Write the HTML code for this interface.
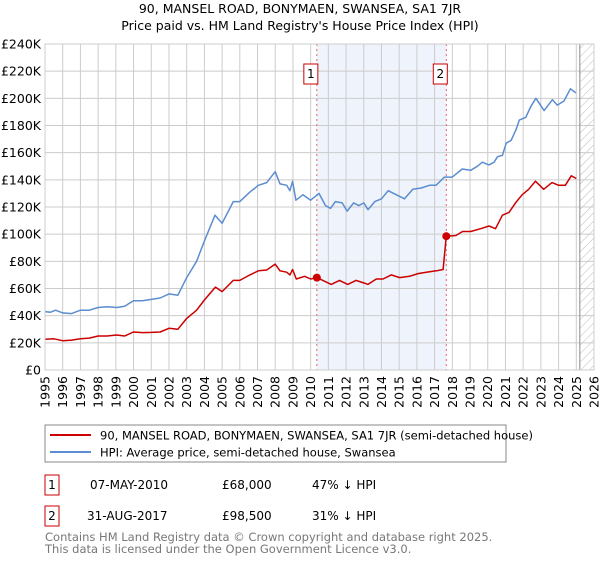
<!DOCTYPE html>
<html><head><meta charset="utf-8"><style>
body{margin:0;background:#fff;width:600px;height:560px;overflow:hidden;font-family:"Liberation Sans","DejaVu Sans",sans-serif}
svg text{font-family:"DejaVu Sans","Liberation Sans",sans-serif}
</style></head><body>
<svg id="c" width="600" height="560">
<defs><pattern id="hatch" width="6" height="6" patternUnits="userSpaceOnUse" patternTransform="rotate(45)"><line x1="0" y1="0" x2="0" y2="6" stroke="#bbb" stroke-width="1"/></pattern></defs>
<text x="300" y="13" text-anchor="middle" font-size="12.5">90, MANSEL ROAD, BONYMAEN, SWANSEA, SA1 7JR</text>
<text x="300" y="30" text-anchor="middle" font-size="12.5">Price paid vs. HM Land Registry's House Price Index (HPI)</text>
<g id="grid"></g><g id="marks"></g><g id="axes"></g>
<rect x="45" y="425" width="461" height="37" fill="#fff" stroke="#888"/>
<line x1="50" y1="435" x2="91" y2="435" stroke="#cc0000" stroke-width="2"/>
<text x="100" y="439.5" font-size="11.5">90, MANSEL ROAD, BONYMAEN, SWANSEA, SA1 7JR (semi-detached house)</text>
<line x1="50" y1="452" x2="91" y2="452" stroke="#5b8dd0" stroke-width="2"/>
<text x="100" y="456.5" font-size="11.5">HPI: Average price, semi-detached house, Swansea</text>
<g font-size="12">
<rect x="45" y="475" width="14" height="20" fill="#fff" stroke="#cc0000"/>
<text x="52" y="489" text-anchor="middle">1</text>
<text x="90" y="489">07-MAY-2010</text>
<text x="222" y="489">£68,000</text>
<text x="312" y="489">47% ↓ HPI</text>
<rect x="45" y="506" width="14" height="20" fill="#fff" stroke="#cc0000"/>
<text x="52" y="520" text-anchor="middle">2</text>
<text x="87" y="520">31-AUG-2017</text>
<text x="222" y="520">£98,500</text>
<text x="312" y="520">31% ↓ HPI</text>
</g>
<text x="45" y="541" font-size="11.5" fill="#777">Contains HM Land Registry data © Crown copyright and database right 2025.</text>
<text x="45" y="553" font-size="11.5" fill="#777">This data is licensed under the Open Government Licence v3.0.</text>
</svg>
<script>
const hpiYears=[1995,1995.3,1995.6,1996,1996.5,1997,1997.5,1998,1998.5,1999.05,1999.5,2000,2000.5,2001,2001.5,2002,2002.5,2003,2003.56,2004,2004.6,2005,2005.63,2006,2006.57,2007.05,2007.52,2008,2008.27,2008.65,2008.83,2008.98,2009.17,2009.56,2010,2010.47,2010.84,2011.12,2011.4,2011.78,2012.06,2012.43,2012.72,2013,2013.24,2013.62,2014,2014.38,2014.84,2015.3,2015.77,2016.24,2016.71,2017.08,2017.55,2018,2018.56,2019.04,2019.41,2019.69,2020.07,2020.36,2020.55,2020.83,2021.04,2021.32,2021.6,2021.78,2022.15,2022.43,2022.72,2023.18,2023.65,2023.93,2024.3,2024.67,2024.98];
const hpiValues=[43,42.5,44,42,41.5,44,44,46,46.5,46,47,51,51,52,53,56,55,68,80,95,114,108,124,124,131,136,138,146,137,136,132,139,125,129,125,130,121,119,124,123,117,123,121,123,118,124,126,132,129,126,133,134,136,136,142,142,148,147,150,153,151,153,157,158,167,169,177,184,186,194,200,191,199,195,198,207,204];
const ppYears=[1995,1995.5,1996,1996.5,1997,1997.5,1998,1998.5,1999.05,1999.5,2000,2000.5,2001,2001.5,2002,2002.5,2003,2003.56,2004,2004.62,2005,2005.63,2006,2006.57,2007.05,2007.52,2008,2008.27,2008.65,2008.83,2008.98,2009.19,2009.66,2010,2010.35,2010.69,2011.16,2011.63,2012.09,2012.56,2013.03,2013.24,2013.71,2014.09,2014.55,2015.03,2015.59,2016.06,2016.53,2017.1,2017.48,2017.66,2018.2,2018.58,2019.04,2019.6,2020.07,2020.44,2020.83,2021.2,2021.57,2021.94,2022.31,2022.69,2023.16,2023.63,2024,2024.38,2024.72,2025];
const ppValues=[22.6,23,21.6,22,23,23.5,25,25,25.8,25,28,27.5,27.7,28,30.7,30,38,44,51.5,61,57.7,66,66,70,73,73.6,78,73,72,70,74,67,69,67,68,66,63,66,63,66,64,63,67,67,70,68,69,71,72,73,74,98.5,99,102,102,104,106,104,114,116,123,129,133,139,133,138,136,136,143,141];
const yTicks=[0,20,40,60,80,100,120,140,160,180,200,220,240];
const sales=[{label:"1",year:2010.35,value:68},{label:"2",year:2017.66,value:98.5}];
const X0=45,X1=594,Y0=370,Y1=44;
const xs=y=>X0+(y-1995)/(2026-1995)*(X1-X0);
const ys=v=>Y0-v/240*(Y0-Y1);
const NS="http://www.w3.org/2000/svg";
function mk(p,t,a){const e=document.createElementNS(NS,t);for(const k in a)e.setAttribute(k,a[k]);p.appendChild(e);return e;}
const grid=document.getElementById('grid'),marks=document.getElementById('marks'),axes=document.getElementById('axes');
let band=mk(grid,'rect',{x:xs(sales[0].year),y:Y1,width:xs(sales[1].year)-xs(sales[0].year),height:Y0-Y1,fill:'#eef3fc'});


let hat=mk(grid,'rect',{x:xs(2025.2),y:Y1,width:X1-xs(2025.2),height:Y0-Y1,fill:'url(#hatch)'});


for(let y=1995;y<=2026;y++){
  let l=mk(grid,'line',{x1:xs(y),x2:xs(y),y1:Y1,y2:Y0,stroke:'#ccc','stroke-width':1});
  
  
  let t=mk(axes,'text',{transform:`translate(${xs(y)+4.5},${Y0+6}) rotate(-90)`,'text-anchor':'end','font-size':12.5});
  t.textContent=y;
  
  
}
yTicks.forEach(v=>{
  let l=mk(grid,'line',{x1:X0,x2:X1,y1:ys(v),y2:ys(v),stroke:'#ccc','stroke-width':1});
  
  
  let t=mk(axes,'text',{x:X0-4,y:ys(v)+4.5,'text-anchor':'end','font-size':12.5});
  t.textContent=v===0?'£0':'£'+v+'K';
  
  
});
let cut=mk(grid,'line',{x1:xs(2025.2),x2:xs(2025.2),y1:Y1,y2:Y0,stroke:'#888','stroke-width':1});


sales.forEach(s=>{
  let l=mk(grid,'line',{x1:xs(s.year),x2:xs(s.year),y1:Y1,y2:Y0,stroke:'#e06666','stroke-dasharray':'2,3','stroke-width':1});
  
  
});
function path(xa,va,col,name){
  let d=xa.map((y,i)=>(i?'L':'M')+xs(y).toFixed(1)+','+ys(va[i]).toFixed(1)).join('');
  let p=mk(marks,'path',{d:d,fill:'none',stroke:col,'stroke-width':1.5,'stroke-linejoin':'round'});
  
  
}
path(hpiYears,hpiValues,'#5b8dd0','hpi-line');
path(ppYears,ppValues,'#cc0000','price-paid-line');
sales.forEach(s=>{
  let c=mk(marks,'circle',{cx:xs(s.year),cy:ys(s.value),r:4,fill:'#cc0000'});
  
  
  let bx=xs(s.year)-13;
  let r=mk(marks,'rect',{x:bx,y:64,width:14,height:20,fill:'#fff',stroke:'#cc0000'});
  
  
  let t=mk(marks,'text',{x:bx+7,y:78,'text-anchor':'middle','font-size':12});
  t.textContent=s.label;
  
  
});
let frame=mk(axes,'rect',{x:X0,y:Y1,width:X1-X0,height:Y0-Y1,fill:'none',stroke:'#ccc'});


</script>
</body></html>
